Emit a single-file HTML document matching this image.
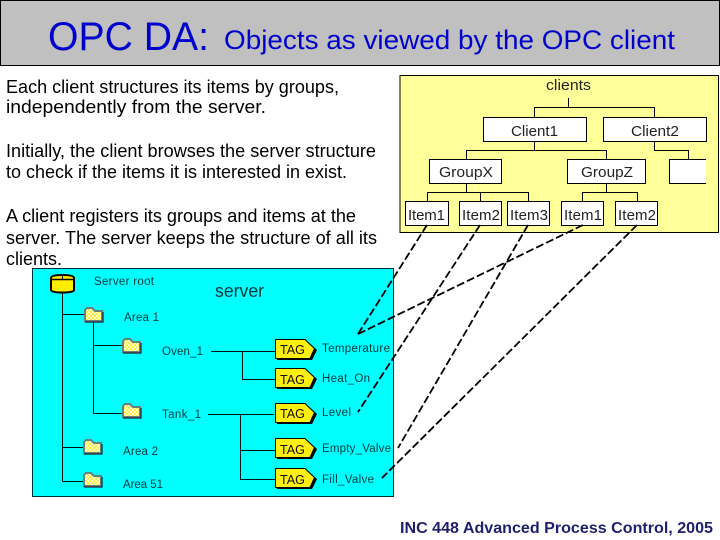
<!DOCTYPE html>
<html><head><meta charset="utf-8"><style>
html,body{margin:0;padding:0;background:#fff}
svg{display:block}
text{font-family:"Liberation Sans",sans-serif}
</style></head><body>
<svg width="720" height="540" viewBox="0 0 720 540" xmlns="http://www.w3.org/2000/svg">
<defs>
<pattern id="chk" width="4" height="4" patternUnits="userSpaceOnUse"><rect width="4" height="4" fill="#ffee44"/><rect width="2" height="2" fill="#ffffcc"/><rect x="2" y="2" width="2" height="2" fill="#ffffcc"/></pattern>
<g id="folder"><path d="M1 14V3L3 1H8L11 4H18V14Z" fill="url(#chk)" stroke="#668080" stroke-width="2"/><path d="M1 15H19V5" fill="none" stroke="#223" stroke-width="1.200"/></g>
<g id="tag"><path d="M2 2H32L42 11L37 21H2Z" fill="#000"/><path d="M0.500 0.500H30L39.500 9.500L35 19.500H0.500Z" fill="#ffee11" stroke="#000" stroke-width="1"/></g>
</defs>

<!-- title -->
<rect x="0.5" y="0.5" width="719" height="65" fill="#c0c0c0" stroke="#000"/>
<text x="48" y="50" font-size="40" fill="#0000cc" textLength="161" lengthAdjust="spacingAndGlyphs">OPC DA:</text>
<text x="224" y="49" font-size="27" fill="#0000cc" textLength="451" lengthAdjust="spacingAndGlyphs">Objects as viewed by the OPC client</text>

<!-- body text -->
<g font-size="18" fill="#000">
<text x="6" y="93" textLength="333" lengthAdjust="spacingAndGlyphs">Each client structures its items by groups,</text>
<text x="6" y="113" textLength="260" lengthAdjust="spacingAndGlyphs">independently from the server.</text>
<text x="6" y="157" textLength="370" lengthAdjust="spacingAndGlyphs">Initially, the client browses the server structure</text>
<text x="6" y="178" textLength="341" lengthAdjust="spacingAndGlyphs">to check if the items it is interested in exist.</text>
<text x="6" y="222" textLength="350" lengthAdjust="spacingAndGlyphs">A client registers its groups and items at the</text>
<text x="6" y="244" textLength="371" lengthAdjust="spacingAndGlyphs">server. The server keeps the structure of all its</text>
<text x="6" y="265" textLength="56" lengthAdjust="spacingAndGlyphs">clients.</text>
</g>

<!-- clients panel -->
<rect x="400" y="75.500" width="318.500" height="157" fill="#ffff99" stroke="#000"/>
<g fill="#fff" stroke="#000">
<rect x="483.500" y="117.500" width="103" height="24"/>
<rect x="603.500" y="117.500" width="103" height="24"/>
<rect x="429.500" y="159.500" width="72" height="24"/>
<rect x="567.500" y="159.500" width="78" height="24"/>
<rect x="405.500" y="201.500" width="43" height="24"/>
<rect x="459.500" y="201.500" width="42" height="24"/>
<rect x="507.500" y="201.500" width="42" height="24"/>
<rect x="561.500" y="201.500" width="42" height="24"/>
<rect x="615.500" y="201.500" width="42" height="24"/>
</g>
<rect x="669" y="159" width="37" height="25" fill="#fff"/>
<path d="M706 159.500H669.500V183.500H706" fill="none" stroke="#000"/>
<path d="M568.500 98V107.500M534.500 117V107.500H654.500V117M534.500 141V150.500M466.500 159V150.500H606.500V159M654.500 141V150.500H688.500V159M466.500 183V192.500M427.500 201V192.500H528.500V201M480.500 192V201M606.500 183V192.500M582.500 201V192.500H637.500V201" fill="none" stroke="#000"/>
<g font-size="15" fill="#222">
<text x="546" y="90" textLength="45" lengthAdjust="spacingAndGlyphs">clients</text>
<text x="511" y="136" textLength="47" lengthAdjust="spacingAndGlyphs">Client1</text>
<text x="631" y="136" textLength="48" lengthAdjust="spacingAndGlyphs">Client2</text>
<text x="439" y="177" textLength="54" lengthAdjust="spacingAndGlyphs">GroupX</text>
<text x="581" y="177" textLength="52" lengthAdjust="spacingAndGlyphs">GroupZ</text>
<text x="408" y="220" textLength="37" lengthAdjust="spacing">Item1</text>
<text x="462" y="220" textLength="38" lengthAdjust="spacing">Item2</text>
<text x="510" y="220" textLength="38" lengthAdjust="spacing">Item3</text>
<text x="564" y="220" textLength="38" lengthAdjust="spacing">Item1</text>
<text x="618" y="220" textLength="38" lengthAdjust="spacing">Item2</text>
</g>

<!-- server panel -->
<rect x="32.500" y="268.500" width="361" height="228" fill="#00ffff" stroke="#003333"/>
<path d="M62.500 293V481.500H83M62.500 314.500H84M62.500 447.500H83M93.500 322V413.500H122M93.500 345.500H122M211 351.500H275M242.500 351.500V379.500H275M208 414.500H274M240.500 414.500V479.500H275M240.500 450.500H275" fill="none" stroke="#011"/>
<!-- root icon -->
<path d="M51 278Q51 275 62.500 275Q74 275 74 278V290Q74 292.500 62.500 292.500Q51 292.500 51 290Z" fill="#ffee00" stroke="#000" stroke-width="2"/>
<path d="M51 279.500H74" fill="none" stroke="#000" stroke-width="1.500"/>
<path d="M62.500 275V279" stroke="#000"/>
<use href="#folder" x="84" y="307"/>
<use href="#folder" x="122" y="338"/>
<use href="#folder" x="122" y="403"/>
<use href="#folder" x="83" y="439"/>
<use href="#folder" x="83" y="472"/>
<use href="#tag" x="275" y="339"/>
<use href="#tag" x="275" y="368"/>
<use href="#tag" x="275" y="403"/>
<use href="#tag" x="275" y="438"/>
<use href="#tag" x="275" y="468"/>
<g font-size="13" fill="#111">
<text x="280" y="354" textLength="25" lengthAdjust="spacingAndGlyphs">TAG</text>
<text x="280" y="384" textLength="25" lengthAdjust="spacingAndGlyphs">TAG</text>
<text x="280" y="418" textLength="25" lengthAdjust="spacingAndGlyphs">TAG</text>
<text x="280" y="454" textLength="25" lengthAdjust="spacingAndGlyphs">TAG</text>
<text x="280" y="484" textLength="25" lengthAdjust="spacingAndGlyphs">TAG</text>
</g>
<g font-size="11.500" fill="#043a3a">
<text x="94" y="285" textLength="60" lengthAdjust="spacing">Server root</text>
<text x="124" y="321" textLength="35" lengthAdjust="spacing">Area 1</text>
<text x="162" y="355" textLength="41" lengthAdjust="spacing">Oven_1</text>
<text x="162" y="418" textLength="39" lengthAdjust="spacing">Tank_1</text>
<text x="123" y="455" textLength="35" lengthAdjust="spacing">Area 2</text>
<text x="123" y="488" textLength="40" lengthAdjust="spacing">Area 51</text>
<text x="322" y="352" textLength="68" lengthAdjust="spacing">Temperature</text>
<text x="322" y="382" textLength="48" lengthAdjust="spacing">Heat_On</text>
<text x="322" y="416" textLength="29" lengthAdjust="spacing">Level</text>
<text x="322" y="452" textLength="69" lengthAdjust="spacing">Empty_Valve</text>
<text x="322" y="483" textLength="52" lengthAdjust="spacing">Fill_Valve</text>
</g>
<text x="215" y="297" font-size="18" fill="#043a3a" textLength="49" lengthAdjust="spacingAndGlyphs">server</text>

<!-- dashed links -->
<g stroke="#000" stroke-width="1.800" stroke-dasharray="8 3" fill="none">
<path d="M427 225L358 334"/>
<path d="M583 225L358 334"/>
<path d="M480 225L358 412"/>
<path d="M528 225L398 448"/>
<path d="M637 225L382 478"/>
</g>

<text x="400" y="533" font-size="15.500" font-weight="bold" fill="#1f1f6e" textLength="313" lengthAdjust="spacingAndGlyphs">INC 448 Advanced Process Control, 2005</text>
</svg>
</body></html>
